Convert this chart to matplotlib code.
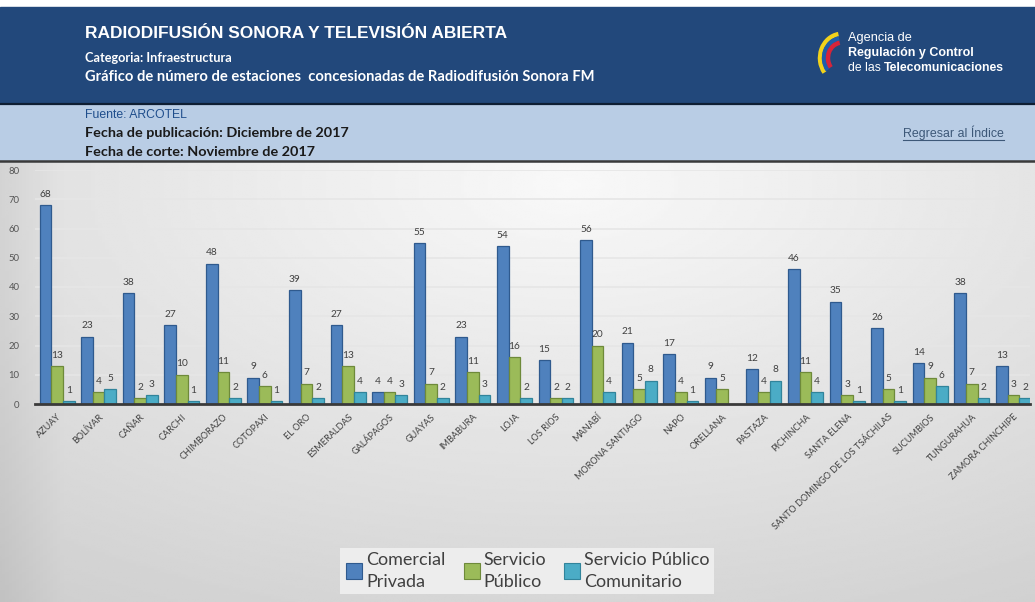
import numpy as np
import matplotlib
matplotlib.use('Agg')
import matplotlib.pyplot as plt
from matplotlib.patches import Rectangle, Arc
from matplotlib.lines import Line2D

# datos
provincias = ['AZUAY', 'BOLÍVAR', 'CAÑAR', 'CARCHI', 'CHIMBORAZO', 'COTOPAXI',
              'EL ORO', 'ESMERALDAS', 'GALÁPAGOS', 'GUAYAS', 'IMBABURA', 'LOJA',
              'LOS RIOS', 'MANABÍ', 'MORONA SANTIAGO', 'NAPO', 'ORELLANA',
              'PASTAZA', 'PICHINCHA', 'SANTA ELENA',
              'SANTO DOMINGO DE LOS TSÁCHILAS', 'SUCUMBIOS', 'TUNGURAHUA',
              'ZAMORA CHINCHIPE']
comercial = [68, 23, 38, 27, 48, 9, 39, 27, 4, 55, 23, 54, 15, 56, 21, 17, 9,
             12, 46, 35, 26, 14, 38, 13]
servicio_publico = [13, 4, 2, 10, 11, 6, 7, 13, 4, 7, 11, 16, 2, 20, 5, 4, 5,
                    4, 11, 3, 5, 9, 7, 3]
comunitario = [1, 5, 3, 1, 2, 1, 2, 4, 3, 2, 3, 2, 2, 4, 8, 1, np.nan, 8, 4, 1,
               1, 6, 2, 2]
series = ['Comercial\nPrivada', 'Servicio\nPúblico', 'Servicio Público\nComunitario']
colores = ['#4F81BD', '#9BBB59', '#4BACC6']
bordes = ['#2F5A8E', '#6E8A3A', '#31849B']

W, H = 1035, 602
fig = plt.figure(figsize=(W / 100, H / 100), dpi=100)
fig.patch.set_facecolor('white')


def fx(px):
    return px / W


def fy(py):
    return 1 - py / H


# fondo con degradado de la zona del grafico
bg = fig.add_axes([0, 0, 1, fy(162)])
yy, xx = np.mgrid[0:1:200j, 0:1:300j]
d = np.sqrt(((xx - 0.55) * 1.1) ** 2 + ((yy - 0.05) * 0.9) ** 2)
grad = 0.975 - 0.19 * np.clip(d, 0, 1.2) / 1.2
grad = grad - 0.05 * np.clip(0.06 - xx, 0, None) / 0.06
bg.imshow(grad, cmap='gray', vmin=0, vmax=1, aspect='auto',
          extent=[0, 1, 0, 1], origin='upper')
bg.set_axis_off()

# franjas del encabezado
fig.patches.append(Rectangle((0, fy(103)), 1, fy(7) - fy(103),
                             transform=fig.transFigure, color='#22487B', zorder=0))
fig.patches.append(Rectangle((0, fy(161)), 1, fy(104) - fy(161),
                             transform=fig.transFigure, color='#B9CDE5', zorder=0))
fig.add_artist(Line2D([0, 1], [fy(103.5)] * 2, color='#0E1E33', lw=1.6))
fig.add_artist(Line2D([0, 1], [fy(161)] * 2, color='#3A3A3A', lw=1.8))

fig.text(fx(85), fy(33), 'RADIODIFUSIÓN SONORA Y TELEVISIÓN ABIERTA',
         color='white', fontsize=12.5, fontweight='bold',
         family='Liberation Sans', va='center')
fig.text(fx(85), fy(58), 'Categoria: Infraestructura', color='white',
         fontsize=9.2, fontweight='bold', family='Lato', va='center')
fig.text(fx(85), fy(77),
         'Gráfico de número de estaciones  concesionadas de Radiodifusión Sonora FM',
         color='white', fontsize=10.6, fontweight='bold', family='Lato', va='center')

fig.text(fx(85), fy(115), 'Fuente: ARCOTEL', color='#1F4E8C', fontsize=8.8,
         family='Liberation Sans', va='center')
fig.text(fx(85), fy(133), 'Fecha de publicación: Diciembre de 2017',
         color='#1A1A1A', fontsize=10.4, fontweight='bold', family='Lato', va='center')
fig.text(fx(85), fy(152), 'Fecha de corte: Noviembre de 2017',
         color='#1A1A1A', fontsize=10.4, fontweight='bold', family='Lato', va='center')

fig.text(fx(1004), fy(133), 'Regresar al Índice', color='#3D5878', fontsize=8.9,
         family='Liberation Sans', va='center', ha='right')
fig.add_artist(Line2D([fx(903), fx(1004)], [fy(140)] * 2, color='#3D5878', lw=0.8))

# logo
for r, c in [(22, '#F2D21B'), (18, '#1E5DAA'), (14, '#D6243A')]:
    fig.add_artist(Arc((fx(842), fy(58)), 2 * r / W, 2.2 * r / H,
                       theta1=95, theta2=235, color=c, lw=3.2,
                       transform=fig.transFigure))
fig.text(fx(848), fy(38), 'Agencia de', color='white', fontsize=9.2,
         family='Liberation Sans', va='center')
fig.text(fx(848), fy(53), 'Regulación y Control', color='white', fontsize=9,
         fontweight='bold', family='Liberation Sans', va='center')
fig.text(fx(848), fy(68), 'de las', color='white', fontsize=8.8,
         family='Liberation Sans', va='center')
fig.text(fx(884), fy(68), 'Telecomunicaciones', color='white', fontsize=8.8,
         fontweight='bold', family='Liberation Sans', va='center')

# grafico de barras
ax = fig.add_axes([fx(35), fy(404), fx(1030) - fx(35), fy(170) - fy(404)])
ax.set_facecolor('none')
x = np.arange(len(provincias))
ancho = 0.28
for k, vals in enumerate([comercial, servicio_publico, comunitario]):
    pos = x + (k - 1) * ancho
    ax.bar(pos, vals, ancho, color=colores[k], edgecolor=bordes[k],
           linewidth=0.9, label=series[k], zorder=3)
    for p, v in zip(pos, vals):
        if np.isnan(v):
            continue
        ax.annotate(str(int(v)), (p, v), xytext=(0, 4.5), textcoords='offset points',
                    ha='center', va='bottom', fontsize=7.3, color='#404040',
                    family='Lato')

ax.set_xlim(-0.53, 23.4)
ax.set_ylim(0, 80)
ax.set_yticks(range(0, 81, 10))
ax.yaxis.grid(True, color='#e6e6e6', lw=1.2, zorder=0)
for s in ['top', 'right', 'left']:
    ax.spines[s].set_visible(False)
ax.spines['bottom'].set_color('#3a3a3a')
ax.spines['bottom'].set_linewidth(2)
ax.spines['bottom'].set_zorder(4)
ax.tick_params(axis='both', length=0, colors='#555555')
ax.tick_params(axis='y', labelsize=6.8, pad=11)
ax.set_xticks(x)
ax.set_xticklabels(provincias, rotation=44, ha='right', rotation_mode='anchor',
                   fontsize=6.6, color='#404040', family='Lato')
ax.tick_params(axis='x', pad=6)
for lab in ax.get_yticklabels():
    lab.set_family('Lato')

handles = [Line2D([], [], marker='s', ls='', markersize=11, markerfacecolor=c,
                  markeredgecolor=b, markeredgewidth=0.8)
           for c, b in zip(colores, bordes)]
leg = fig.legend(handles, series, loc='center', bbox_to_anchor=(fx(527), fy(571)),
                 ncol=3, frameon=True, facecolor='#ededed',
                 edgecolor='none', framealpha=1, handletextpad=0.1,
                 handlelength=1.1, columnspacing=0.9, borderpad=0.25,
                 borderaxespad=0, prop={'family': 'Lato', 'size': 13})
for txt in leg.get_texts():
    txt.set_color('#404040')
    txt.set_linespacing(1.45)
leg.get_frame().set_boxstyle('square', pad=0)

fig.savefig('out.png', dpi=100)
